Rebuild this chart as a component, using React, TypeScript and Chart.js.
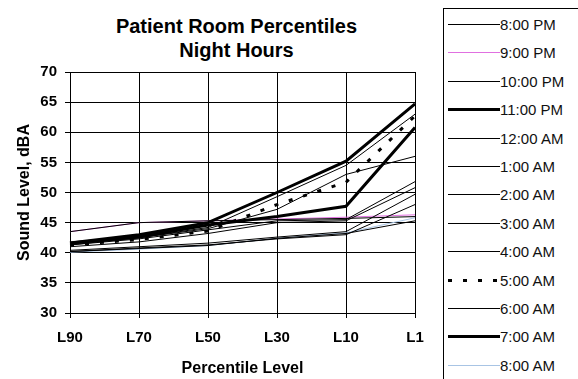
import React, { useEffect, useRef } from "react";
import { Chart, registerables } from "chart.js";

Chart.register(...registerables);

// Percentile levels along the x axis
const percentiles = ["L90", "L70", "L50", "L30", "L10", "L1"];

// Hour of the night for each series
const hours = [
  "8:00 PM", "9:00 PM", "10:00 PM", "11:00 PM", "12:00 AM", "1:00 AM", "2:00 AM",
  "3:00 AM", "4:00 AM", "5:00 AM", "6:00 AM", "7:00 AM", "8:00 AM",
];

// Sound level (dBA) at each percentile, one array per hour
const pm8 = [43.5, 45.0, 45.3, 45.5, 45.7, 46.0];
const pm9 = [43.5, 45.0, 45.3, 45.6, 45.9, 46.3];
const pm10 = [41.5, 42.5, 44.2, 49.3, 54.5, 63.0];
const pm11 = [41.6, 43.0, 45.0, 50.0, 55.2, 64.7];
const am12 = [41.3, 42.5, 44.0, 47.2, 53.0, 56.0];
const am1 = [41.3, 42.3, 43.8, 45.3, 45.5, 51.8];
const am2 = [41.0, 41.8, 43.2, 45.0, 45.3, 50.8];
const am3 = [40.4, 41.0, 41.6, 42.6, 43.5, 49.7];
const am4 = [40.2, 40.8, 41.3, 42.3, 43.0, 48.0];
const am5 = [41.3, 42.2, 43.6, 48.0, 51.7, 62.7];
const am6 = [40.2, 40.7, 41.2, 42.4, 43.2, 45.3];
const am7 = [41.6, 42.6, 44.6, 46.0, 47.7, 60.8];
const am8 = [40.1, 40.6, 41.2, 42.4, 43.3, 45.8];

const levels = [pm8, pm9, pm10, pm11, am12, am1, am2, am3, am4, am5, am6, am7, am8];

// Axis range
const yMin = 30;
const yMax = 70;
const yStep = 5;

// Line styling per hour
const lineColors = [
  "#000000", "#e070e0", "#000000", "#000000", "#000000", "#000000", "#000000",
  "#000000", "#000000", "#000000", "#000000", "#000000", "#a8c4e4",
];
const lineWidths = [1, 1, 1, 3, 1, 1, 1, 1, 1, 3, 1, 3, 1];
const lineDashes: number[][] = [[], [], [], [], [], [], [], [], [], [4, 11], [], [], []];
// Coloured lines sit underneath the black ones
const drawOrder = [0, 1, 0, 0, 0, 0, 0, 0, 0, 0, 0, 0, 1];

const FONT = "'Liberation Sans', Arial, sans-serif";

export default function App() {
  const canvasRef = useRef<HTMLCanvasElement>(null);

  useEffect(() => {
    const canvas = canvasRef.current;
    if (!canvas) return;
    const chart = new Chart(canvas, {
      type: "line",
      data: {
        labels: percentiles,
        datasets: hours.map((h, i) => ({
          label: h,
          data: levels[i],
          borderColor: lineColors[i],
          backgroundColor: lineColors[i],
          borderWidth: lineWidths[i],
          borderDash: lineDashes[i],
          order: drawOrder[i],
          pointRadius: 0,
          tension: 0,
          fill: false,
        })),
      },
      options: {
        animation: false,
        responsive: false,
        events: [],
        layout: { padding: { top: 72, right: 25, left: 0, bottom: 0 } },
        plugins: {
          legend: { display: false },
          title: { display: false },
          tooltip: { enabled: false },
        },
        scales: {
          x: {
            offset: false,
            grid: { color: "#000", lineWidth: 1, tickLength: 5, tickColor: "#000" },
            border: { color: "#000" },
            ticks: {
              color: "#000",
              font: { family: FONT, size: 15, weight: "bold" },
              padding: 11,
              maxRotation: 0,
              autoSkip: false,
            },
            title: {
              display: true,
              text: "Percentile Level",
              color: "#000",
              font: { family: FONT, size: 16, weight: "bold" },
              padding: { top: 0, bottom: 1 },
            },
            afterFit: (s: any) => {
              s.height = 66;
            },
          },
          y: {
            min: yMin,
            max: yMax,
            grid: { color: "#000", lineWidth: 1, tickLength: 5, tickColor: "#000" },
            border: { color: "#000" },
            ticks: {
              stepSize: yStep,
              color: "#000",
              font: { family: FONT, size: 15, weight: "bold" },
              padding: 8,
            },
            title: {
              display: true,
              text: "Sound Level, dBA",
              color: "#000",
              font: { family: FONT, size: 16, weight: "bold" },
              padding: { top: 15, bottom: 0 },
            },
            afterFit: (s: any) => {
              s.width = 70;
            },
          },
        },
      },
    });
    return () => chart.destroy();
  }, []);

  const rowTop = 15;
  const rowGap = 28.4;

  return (
    <div style={{ position: "absolute", left: 0, top: 0, width: 578, height: 379, overflow: "hidden", background: "#fff" }}>
      <div
        style={{
          position: "absolute",
          left: 0,
          top: 14,
          width: 473,
          textAlign: "center",
          fontFamily: FONT,
          fontWeight: "bold",
          fontSize: 20,
          lineHeight: "24px",
          color: "#000",
        }}
      >
        <div>Patient Room Percentiles</div>
        <div>Night Hours</div>
      </div>
      <canvas
        ref={canvasRef}
        width={440}
        height={379}
        style={{ position: "absolute", left: 0, top: 0, width: 440, height: 379, display: "block" }}
      />
      <div
        style={{
          position: "absolute",
          left: 443,
          top: 8,
          width: 150,
          height: 400,
          border: "1px solid #000",
          boxSizing: "border-box",
          background: "#fff",
        }}
      >
        {hours.map((h, i) => {
          const cy = Math.round(rowTop + i * rowGap);
          return (
            <div key={h}>
              <svg
                width={52}
                height={8}
                shapeRendering="crispEdges"
                style={{ position: "absolute", left: 4, top: cy - 4 }}
              >
                <line
                  x1={0}
                  y1={lineWidths[i] % 2 === 1 ? 4.5 : 4}
                  x2={52}
                  y2={lineWidths[i] % 2 === 1 ? 4.5 : 4}
                  stroke={lineColors[i]}
                  strokeWidth={lineWidths[i]}
                  strokeDasharray={lineDashes[i].length ? lineDashes[i].join(" ") : undefined}
                />
              </svg>
              <div
                style={{
                  position: "absolute",
                  left: 56,
                  top: cy - 8,
                  height: 18,
                  lineHeight: "18px",
                  fontFamily: FONT,
                  fontSize: 15,
                  color: "#111",
                  whiteSpace: "nowrap",
                }}
              >
                {h}
              </div>
            </div>
          );
        })}
      </div>
    </div>
  );
}
